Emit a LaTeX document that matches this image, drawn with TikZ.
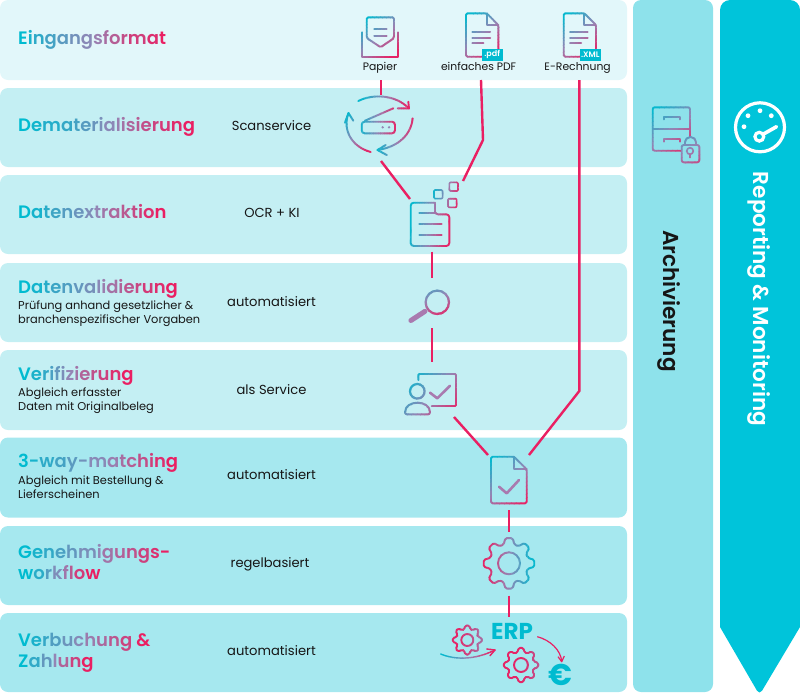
\documentclass[tikz,border=0pt]{standalone}
\usepackage{fontspec}
\setmainfont{Poppins}[BoldFont={Poppins SemiBold}]
\newfontfamily\poppinsbold{Poppins Bold}
\definecolor{gteal}{HTML}{00BBD0}
\definecolor{gmid}{HTML}{9485B5}
\definecolor{gpink}{HTML}{EA1F62}
\definecolor{rowa}{HTML}{E2F7FA}
\definecolor{rowb}{HTML}{C4EFF3}
\definecolor{rowc}{HTML}{A6E8EF}
\definecolor{archivec}{HTML}{8EE2EB}
\definecolor{reportc}{HTML}{00C4DA}
\definecolor{mauve}{HTML}{A97AAF}
\definecolor{inkc}{HTML}{161616}
\newcommand\setgrad[2]{%
  \ifdim#2pt<50pt\relax
    \pgfmathsetmacro\gq{2*#2}\colorlet{#1}{gmid!\gq!gteal}%
  \else
    \pgfmathsetmacro\gq{2*#2-100}\colorlet{#1}{gpink!\gq!gmid}%
  \fi}
\makeatletter
\newcount\gt@n
\newcount\gt@i
\newcommand\gradtext[1]{%
  \gt@n=0 \@tfor\gt@c:=#1\do{\advance\gt@n by 1 }%
  \gt@i=0 \@tfor\gt@c:=#1\do{%
    \pgfmathsetmacro\gt@p{100*\the\gt@i/(\the\gt@n-1)}%
    \setgrad{gtc}{\gt@p}{\color{gtc}\gt@c}%
    \advance\gt@i by 1 }}
\makeatother
% draws #5 through strips, colour running teal -> pink along direction #4
\newcommand\gradstroke[5]{%
  \foreach \gi in {1,...,18}{%
    \pgfmathsetmacro\gp{(\gi-.5)/18*100}%
    \setgrad{gc}{\gp}%
    \pgfmathsetmacro\ga{\gi==1?-300:-#3+(\gi-1)*2*#3/18}%
    \pgfmathsetmacro\gb{\gi==18?300:-#3+\gi*2*#3/18+0.3}%
    \begin{scope}[color=gc]
      \clip[shift={(#1,#2)},rotate=#4] (\ga,-300) rectangle (\gb,300);
      #5
    \end{scope}
  }}
\newcommand\gearshape[4]{%
  \begin{scope}[shift={(#1,#2)}]
    \draw[icon,rounded corners=1.5] (-16:#4)
      \foreach \k in {0,45,...,315}{ -- ({\k-16}:#4) -- ({\k-8}:#3) -- ({\k+8}:#3) -- ({\k+16}:#4) } -- cycle;
  \end{scope}}
\tikzset{
  rowbox/.style={rounded corners=8,minimum width=627pt,inner sep=0,outer sep=0,draw=none},
  head/.style={anchor=base west,inner sep=0,font=\fontsize{18}{21}\selectfont\bfseries,align=left},
  sub/.style={anchor=base west,inner sep=0,text=inkc,font=\fontsize{11.4}{14}\selectfont,align=left},
  lab/.style={anchor=base,inner sep=0,text=inkc,font=\fontsize{13.1}{15}\selectfont},
  iconlab/.style={anchor=base,inner sep=0,text=inkc,font=\fontsize{10.8}{13}\selectfont},
  badge/.style={fill=gteal,text=white,inner sep=0,minimum width=21pt,minimum height=12.5pt,font=\fontsize{8}{9}\selectfont\bfseries},
  icon/.style={line width=1.9pt,line join=round,line cap=round},
  thickicon/.style={line width=2.6pt,line join=round,line cap=round},
  flow/.style={draw=gpink,line width=2.4pt},
  vert/.style={rotate=-90,inner sep=0,font=\fontsize{21.6}{24}\selectfont\bfseries},
}
\begin{document}
\begin{tikzpicture}[x=1pt,y=-1pt]
\useasboundingbox (0,0) rectangle (800,694);
% rows
\node (row1) [rowbox,fill=rowa,minimum height=80pt] at (313.5,40) {};
\node (row2) [rowbox,fill=rowb,minimum height=79pt] at (313.5,127.5) {};
\node (row3) [rowbox,fill=rowb,minimum height=79pt] at (313.5,214.5) {};
\node (row4) [rowbox,fill=rowb,minimum height=79pt] at (313.5,302.5) {};
\node (row5) [rowbox,fill=rowb,minimum height=80pt] at (313.5,390) {};
\node (row6) [rowbox,fill=rowc,minimum height=80pt] at (313.5,477.5) {};
\node (row7) [rowbox,fill=rowc,minimum height=79pt] at (313.5,565.5) {};
\node (row8) [rowbox,fill=rowc,minimum height=79pt] at (313.5,652.5) {};
% side bars
\node (archivbar) [rounded corners=8,fill=archivec,inner sep=0,minimum width=80pt,minimum height=692pt] at (673,346) {};
\fill[reportc] (720,627) [rounded corners=10] -- (720,0) -- (800,0) [sharp corners] -- (800,627) [rounded corners=5] -- (759.5,695) [sharp corners] -- cycle;
% headings
\node (h1) [head] at (18,44.3) {\gradtext{Eingangsformat}};
\node (h2) [head] at (18,131.7) {\gradtext{Dematerialisierung}};
\node (h3) [head] at (18,218.3) {\gradtext{Datenextraktion}};
\node (h4) [head] at (18,293.3) {\gradtext{Datenvalidierung}};
\node (h5) [head] at (18,380.7) {\gradtext{Verifizierung}};
\node (h6) [head] at (18,467) {\gradtext{3-way-matching}};
\node (h7a) [head] at (18,558.5) {\gradtext{Genehmigungs-}};
\node (h7b) [head] at (18,579) {\gradtext{workflow}};
\node (h8a) [head] at (18,646) {\gradtext{Verbuchung~\&}};
\node (h8b) [head] at (18,667) {\gradtext{Zahlung}};
% sub texts
\node (s4a) [sub] at (18,309.3) {Prüfung anhand gesetzlicher \&};
\node (s4b) [sub] at (18,323.3) {branchenspezifischer Vorgaben};
\node (s5a) [sub] at (18,396.7) {Abgleich erfasster};
\node (s5b) [sub] at (18,410.7) {Daten mit Originalbeleg};
\node (s6a) [sub] at (18,484) {Abgleich mit Bestellung \&};
\node (s6b) [sub] at (18,498) {Lieferscheinen};
% middle labels
\node (l2) [lab] at (271.5,130.7) {Scanservice};
\node (l3) [lab] at (272,217.3) {OCR + KI};
\node (l4) [lab] at (271.5,306.7) {automatisiert};
\node (l5) [lab] at (271.5,394) {als Service};
\node (l6) [lab] at (271.5,479) {automatisiert};
\node (l7) [lab] at (270,567.5) {regelbasiert};
\node (l8) [lab] at (271.5,655.5) {automatisiert};
% input labels
\node (ipapier) [iconlab] at (380,70) {Papier};
\node (ipdf) [iconlab] at (478.6,70) {einfaches PDF};
\node (ixml) [iconlab] at (577.6,70) {E-Rechnung};
% connector ends
\coordinate (papierOut) at (380.7,80);
\coordinate (scanIn) at (380.7,95);
\coordinate (scanOut) at (381,161);
\coordinate (ocrInL) at (410,199);
\coordinate (pdfOut) at (481,80);
\coordinate (pdfBend) at (483,140);
\coordinate (ocrInR) at (463,181);
\coordinate (xmlOut) at (579.3,80);
\coordinate (xmlBend) at (579.3,391);
\coordinate (matchInR) at (529,455);
\coordinate (ocrOut) at (431.7,251.7);
\coordinate (searchIn) at (431.7,278.3);
\coordinate (searchOut) at (431.7,328);
\coordinate (verifyIn) at (431.7,361.7);
\coordinate (verifyOut) at (454,417);
\coordinate (matchInL) at (488,455);
\coordinate (matchOut) at (508.7,510);
\coordinate (gearIn) at (508.7,531.7);
\coordinate (gearOut) at (508.7,595.7);
\coordinate (erpIn) at (508.7,616.7);
% connectors
\draw[flow] (papierOut) -- (scanIn);
\draw[flow] (scanOut) -- (ocrInL);
\draw[flow] (pdfOut) -- (pdfBend) -- (ocrInR);
\draw[flow] (xmlOut) -- (xmlBend) -- (matchInR);
\draw[flow] (ocrOut) -- (searchIn);
\draw[flow] (searchOut) -- (verifyIn);
\draw[flow] (verifyOut) -- (matchInL);
\draw[flow] (matchOut) -- (gearIn);
\draw[flow] (gearOut) -- (erpIn);
% Papier icon
\gradstroke{380}{37}{23}{-50}{
  \draw[icon,rounded corners=1.5] (366.7,38) -- (366.7,17.3) -- (394,17.3) -- (394,38) -- (380.7,47.3) -- cycle;
  \draw[icon] (361.7,32.3) -- (361.7,56.7) -- (398.3,56.7) -- (398.3,32.3);
  \draw[icon,line width=2pt] (374.3,29.3) -- (386.7,29.3) (374.3,36) -- (386.7,36);
}
% document icons
\gradstroke{481.6}{35}{24}{-50}{
  \draw[icon,rounded corners=1.5] (486.7,13.3) -- (466,13.3) -- (466,56.7) -- (498.3,56.7) -- (498.3,25) -- cycle;
  \draw[icon] (486.7,13.3) -- (486.7,25) -- (498.3,25);
  \draw[icon,line width=2pt] (472.3,32.3) -- (490,32.3) (472.3,37.7) -- (490,37.7) (472.3,43.3) -- (483.3,43.3);
}
\gradstroke{579.3}{35}{24}{-50}{
  \draw[icon,rounded corners=1.5] (584.4,13.3) -- (563.7,13.3) -- (563.7,56.7) -- (596,56.7) -- (596,25) -- cycle;
  \draw[icon] (584.4,13.3) -- (584.4,25) -- (596,25);
  \draw[icon,line width=2pt] (570,32.3) -- (587.7,32.3) (570,37.7) -- (587.7,37.7) (570,43.3) -- (581,43.3);
}
\node (bpdf) [badge] at (492.2,54.8) {.pdf};
\node (bxml) [badge] at (590.3,54.8) {.XML};
% scanner icon
\gradstroke{385}{105}{24}{0}{
  \draw[icon] (358.3,101) .. controls (372,94) and (395,94) .. (409,108.5);
  \draw[icon] (397.7,108.3) -- (409,108.5) -- (408.3,101.7);
}
\gradstroke{396}{135}{20}{0}{
  \draw[icon] (412.7,118.3) .. controls (411,135) and (398,147) .. (377.5,150);
  \draw[icon] (385.7,145) -- (377.5,150) -- (386.7,155);
}
\gradstroke{358}{132}{20}{-35}{
  \draw[icon] (370.7,152) .. controls (352,147) and (342,130) .. (348.5,113);
  \draw[icon] (345,122.7) -- (348.5,113) -- (353.3,120.7);
}
\gradstroke{378}{120}{20}{0}{
  \draw[icon,rounded corners=3] (361.7,121.7) rectangle (395,133.3);
  \draw[icon] (365,120.7) -- (393.3,108.3);
}
\fill[gmid] (382.7,127.3) circle (1.3) (389,127.3) circle (1.3);
% OCR icon
\gradstroke{430}{225}{20}{-8}{
  \draw[icon,rounded corners=3] (435,202.7) -- (410.7,202.7) -- (410.7,246) -- (449.3,246) -- (449.3,214.3) -- (435,214.3) [sharp corners] -- (435,202.7);
  \draw[icon] (419.3,213.3) -- (435,213.3) (419.3,224) -- (441.7,224) (419.3,235.3) -- (441.7,235.3);
}
\gradstroke{446}{195}{14}{-10}{
  \draw[icon,line width=1.6pt,rounded corners=1] (434,190) rectangle (442.6,198.6);
  \draw[icon,line width=1.6pt,rounded corners=1] (449.4,182.4) rectangle (458,191);
  \draw[icon,line width=1.6pt,rounded corners=1] (448,198.7) rectangle (456.6,207.3);
}
% search icon
\draw[mauve,line width=5pt,line cap=round] (410.9,320.5) -- (425,311.3);
\gradstroke{430}{300}{22}{-70}{
  \draw[icon,line width=2.2pt] (437.3,302.3) circle (11.7);
}
% verify icon
\gradstroke{437}{390}{30}{-40}{
  \draw[icon,rounded corners=1] (418.3,380) -- (418.3,374) -- (456,374) -- (456,406) -- (431.7,406);
  \draw[icon,line width=2.2pt] (417.3,391.3) circle (7.3);
  \draw[icon,line width=2pt,rounded corners=2] (405,414.3) .. controls (405,399.5) and (430,399.5) .. (430,414.3) -- cycle;
}
\draw[mauve,thickicon] (430,392.7) -- (437.3,398.3) -- (450,385.7);
% check document icon
\gradstroke{509}{480}{28}{-50}{
  \draw[icon,rounded corners=1.5] (514,456.7) -- (491,456.7) -- (491,503.3) -- (526.7,503.3) -- (526.7,469.3) -- cycle;
  \draw[icon] (514,456.7) -- (514,469.3) -- (526.7,469.3);
}
\draw[mauve,thickicon] (499,486.7) -- (506.7,493.3) -- (519,480);
% gear icon
\gradstroke{509}{563.3}{24}{180}{
  \gearshape{509}{563.3}{25.5}{19.5}
  \draw[icon] (509,563.3) circle (11);
}
% ERP
\gradstroke{490}{640}{34}{180}{
  \gearshape{467.3}{640}{14.7}{11}
  \draw[icon] (467.3,640) circle (6);
}
\gradstroke{555}{665}{36}{180}{
  \gearshape{521}{665}{17.3}{13}
  \draw[icon] (521,665) circle (7);
}
\node (erp) [anchor=base,inner sep=0,text=gteal] at (512,639) {\poppinsbold\fontsize{23}{26}\selectfont ERP};
\gradstroke{468}{655}{25}{0}{
  \draw[icon,line width=1.4pt] (440.7,654) .. controls (455,660) and (475,660) .. (495,650);
  \draw[icon,line width=1.4pt] (486.7,649) -- (495,650) -- (490,655.7);
}
\draw[gpink,line width=1.2pt,line join=round] (537.3,636.7) .. controls (550,640) and (561,650) .. (561.7,661.7);
\draw[gpink,line width=1.2pt,line join=round] (558,656.7) -- (561.7,661.7) -- (564.3,656);
\node (euro) [anchor=base,inner sep=0,text=gteal] at (560,685.5) {\poppinsbold\fontsize{30}{32}\selectfont €};
% archive icon
\gradstroke{672}{130}{28}{-50}{
  \draw[icon,rounded corners=2] (690,137) -- (690,107.3) -- (652.7,107.3) -- (652.7,150.7) -- (681,150.7);
  \draw[icon] (652.7,129.3) -- (690,129.3);
  \draw[icon] (664,119.3) -- (664,116.7) -- (680,116.7) -- (680,119.3);
  \draw[icon] (664,141.7) -- (664,139.3) -- (680,139.3) -- (680,141.7);
}
\gradstroke{688}{150}{30}{-60}{
  \draw[icon,rounded corners=2] (681.7,145) rectangle (699.3,162.3);
  \draw[icon] (685,145) -- (685,142) arc[start angle=180,end angle=0,x radius=5.5,y radius=-5] -- (696,145);
  \draw[icon,line width=1.6pt] (690,151) circle (3.3) (690,154.3) -- (690,157.5);
}
% gauge
\draw[white,line width=3.2pt] (760,127.3) circle (24.5);
\fill[white] (744,126.7) circle (2.4) (748,115.7) circle (2.4) (760,110.7) circle (2.4) (771.3,115.7) circle (2.4);
\draw[white,line width=3.2pt] (759.3,136.7) circle (4.4);
\draw[white,line width=3.6pt,line cap=round] (763.2,134.2) -- (776.5,126.7);
% vertical titles
\node (archiv) [vert,text=inkc] at (669,301) {Archivierung};
\node (report) [vert,text=white] at (759.5,299) {Reporting \& Monitoring};
\end{tikzpicture}
\end{document}
